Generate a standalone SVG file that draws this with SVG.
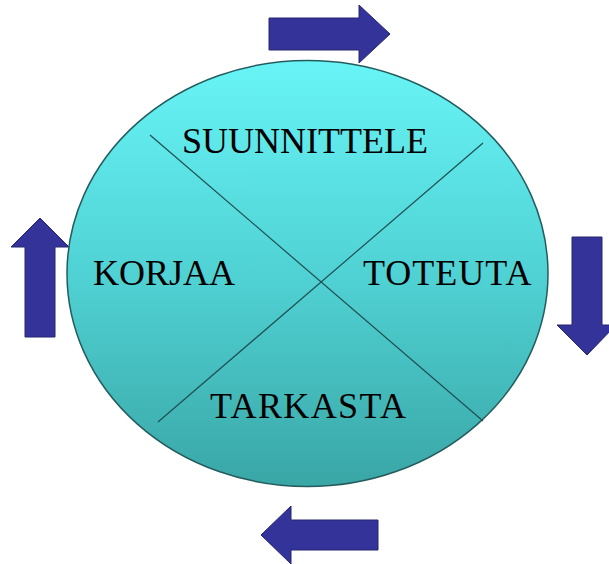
<svg xmlns="http://www.w3.org/2000/svg" width="609" height="564" viewBox="0 0 609 564">
  <defs>
    <linearGradient id="fill" x1="0" y1="0" x2="0" y2="1">
      <stop offset="0" stop-color="#68f4f6"/>
      <stop offset="0.5" stop-color="#50d2d4"/>
      <stop offset="1" stop-color="#3aa6a6"/>
    </linearGradient>
  </defs>
  <style>
    .arrow { fill: #333399; stroke: #26266e; stroke-width: 1; stroke-linejoin: miter; }
    .label { font-family: "Liberation Serif", "Times New Roman", serif; font-size: 36px; fill: #000; text-anchor: start; }
    .divider { stroke: #1f4f52; stroke-width: 1.2; fill: none; }
  </style>
  <rect width="609" height="564" fill="#ffffff"/>
  <g id="connectors">
    <polygon class="arrow" points="269,18 359,18 359,5 390,34 359,63 359,50 269,50"/>
    <polygon class="arrow" points="572,237 602,237 602,325 616,325 587,355 557,325 572,325"/>
    <polygon class="arrow" points="378,520 291,520 291,506 261,535 291,564 291,550 378,550"/>
    <polygon class="arrow" points="25,337 25,247 11,247 40,218 69,247 55,247 55,337"/>
  </g>
  <g id="cycle">
    <ellipse cx="307.5" cy="273.5" rx="240.5" ry="213" fill="url(#fill)" stroke="#245c5e" stroke-width="1.5"/>
    <line class="divider" x1="150" y1="135" x2="483" y2="421"/>
    <line class="divider" x1="483" y1="143" x2="158" y2="422"/>
  </g>
  <g id="node-suunnittele"><text class="label" x="182" y="153">SUUNNITTELE</text></g>
  <g id="node-toteuta"><text class="label" x="363" y="285" letter-spacing="1">TOTEUTA</text></g>
  <g id="node-tarkasta"><text class="label" x="210" y="418" letter-spacing="1.4">TARKASTA</text></g>
  <g id="node-korjaa"><text class="label" x="93" y="285">KORJAA</text></g>
</svg>
